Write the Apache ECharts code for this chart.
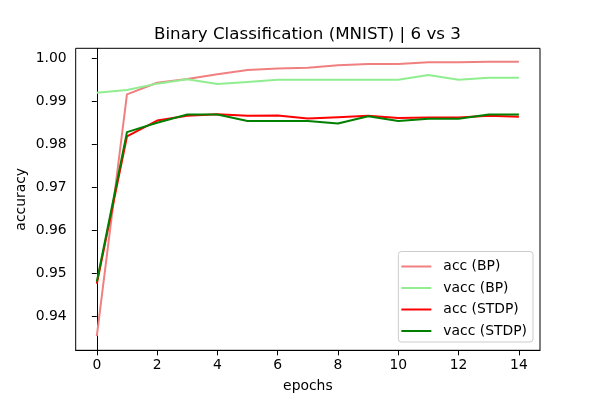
<!DOCTYPE html>
<html>
<head>
<meta charset="utf-8">
<script src="https://cdn.jsdelivr.net/npm/echarts@6/dist/echarts.min.js"></script>
<style>html,body{margin:0;padding:0;background:#fff;}#c{width:600px;height:400px;}</style>
</head>
<body>
<div id="c"></div>
<script>
const epochs = [0,1,2,3,4,5,6,7,8,9,10,11,12,13,14];
const accBP    = [0.9353,0.9916,0.9943,0.9952,0.9963,0.9973,0.9976,0.9978,0.9984,0.9987,0.9987,0.9991,0.9991,0.9992,0.9992];
const vaccBP   = [0.9920,0.9926,0.9941,0.9951,0.9940,0.9945,0.9950,0.9950,0.9950,0.9950,0.9950,0.9961,0.9950,0.9955,0.9955];
const accSTDP  = [0.9475,0.9818,0.9855,0.9866,0.9870,0.9866,0.9867,0.9860,0.9863,0.9866,0.9861,0.9862,0.9862,0.9866,0.9864];
const vaccSTDP = [0.9480,0.9828,0.9850,0.9869,0.9869,0.9854,0.9854,0.9854,0.9848,0.9865,0.9854,0.9859,0.9859,0.9869,0.9869];
const xTicks = [0,2,4,6,8,10,12,14];
const yTicks = [0.94,0.95,0.96,0.97,0.98,0.99,1.00];

const font = 'DejaVu Sans';
const chart = echarts.init(document.getElementById('c'), null, {renderer:'canvas'});
function mk(name, data, color){
  return {name, type:'line', data: epochs.map((e,i)=>[e,data[i]]), symbol:'none',
    lineStyle:{color, width:2}, itemStyle:{color}, z: 2};
}
chart.setOption({
  animation:false,
  backgroundColor:'#fff',
  title:{text:'Binary Classification (MNIST) | 6 vs 3', left:154, top:26, padding:0,
    textStyle:{fontFamily:font, fontSize:16.7, fontWeight:'normal', color:'#000'}},
  grid:{left:75.7, right:60, top:48.3, bottom:49.7, show:true, borderColor:'#000', borderWidth:1, backgroundColor:'transparent'},
  xAxis:{type:'value', min:-0.7, max:14.7,
    name:'epochs', nameLocation:'middle', nameGap:29, nameMoveOverlap:false,
    nameTextStyle:{fontFamily:font, fontSize:13.9, color:'#000'},
    axisLine:{show:true, lineStyle:{color:'#000', width:1}},
    axisTick:{show:true, inside:false, length:5, lineStyle:{color:'#000'}, customValues:xTicks},
    axisLabel:{fontFamily:font, fontSize:13.9, color:'#000', margin:8, customValues:xTicks, formatter:v=>String(v)},
    splitLine:{show:false}},
  yAxis:{type:'value', min:0.932, max:1.00233,
    name:'accuracy', nameLocation:'middle', nameGap:47, nameRotate:90, nameMoveOverlap:false,
    nameTextStyle:{fontFamily:font, fontSize:13.9, color:'#000'},
    axisLine:{show:true, lineStyle:{color:'#000', width:1}},
    axisTick:{show:true, inside:false, length:5, lineStyle:{color:'#000'}, customValues:yTicks},
    axisLabel:{fontFamily:font, fontSize:13.9, color:'#000', margin:9, customValues:yTicks, formatter:v=>v.toFixed(2)},
    splitLine:{show:false}},
  legend:{orient:'vertical', right:67, bottom:58, icon:'rect', itemWidth:30, itemHeight:2, itemGap:7.5,
    backgroundColor:'rgba(255,255,255,0.8)', borderColor:'#cccccc', borderWidth:1, borderRadius:3,
    padding:[8,6,4,3],
    textStyle:{fontFamily:font, fontSize:13.9, color:'#000', padding:[0,0,0,7]},
    data:['acc (BP)','vacc (BP)','acc (STDP)','vacc (STDP)']},
  series:[
    mk('acc (BP)', accBP, '#F08080'),
    mk('vacc (BP)', vaccBP, '#90EE90'),
    mk('acc (STDP)', accSTDP, '#FF0000'),
    mk('vacc (STDP)', vaccSTDP, '#008000')
  ]
});
</script>
</body>
</html>
